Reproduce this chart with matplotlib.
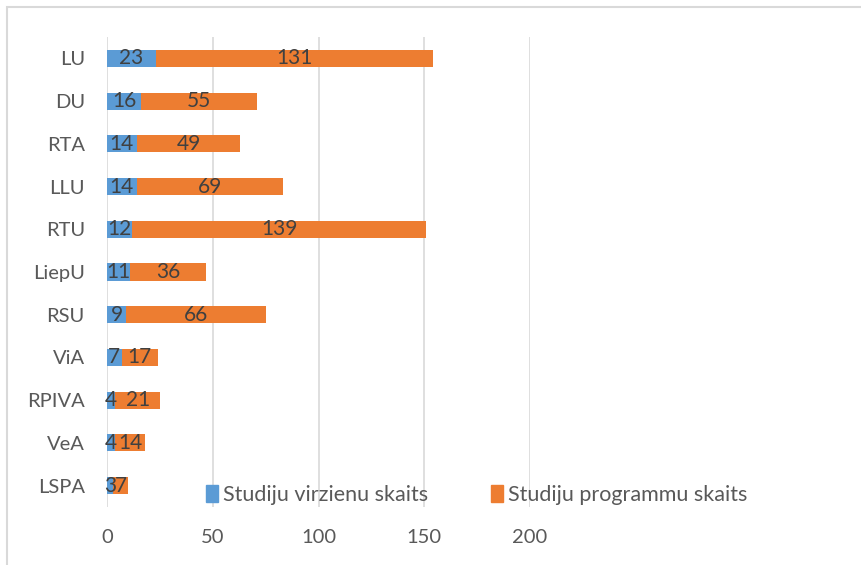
import matplotlib
matplotlib.use("Agg")
import matplotlib.pyplot as plt
from matplotlib.patches import Rectangle, Patch

categories = ["LU", "DU", "RTA", "LLU", "RTU", "LiepU", "RSU", "ViA", "RPIVA", "VeA", "LSPA"]
virzieni = [23, 16, 14, 14, 12, 11, 9, 7, 4, 4, 3]
programmas = [131, 55, 49, 69, 139, 36, 66, 17, 21, 14, 7]
xticks = [0, 50, 100, 150, 200]
series_names = ["Studiju virzienu skaits", "Studiju programmu skaits"]

plt.rcParams['font.family'] = ['Lato', 'DejaVu Sans']

W, H = 862, 565
fig = plt.figure(figsize=(W / 100, H / 100), dpi=100)
ax = fig.add_axes([107 / W, 1 - 507 / H, (530 - 107) / W, (507 - 37) / H])

blue = "#5B9BD5"
orange = "#ED7D31"
txt = "#595959"
lbl = "#404040"

ypos = list(range(len(categories)))[::-1]
ax.barh(ypos, virzieni, height=0.4, color=blue, zorder=3)
ax.barh(ypos, programmas, left=virzieni, height=0.4, color=orange, zorder=3)

for y, v, p in zip(ypos, virzieni, programmas):
    ax.text(v / 2, y, str(v), ha="center", va="center", fontsize=15, color=lbl, zorder=4)
    ax.text(v + p / 2, y, str(p), ha="center", va="center", fontsize=15, color=lbl, zorder=4)

ax.set_xlim(0, 200)
ax.set_ylim(-0.5, len(categories) - 0.5)
ax.set_xticks(xticks)
ax.set_xticklabels([str(t) for t in xticks])
ax.set_yticks(ypos)
ax.set_yticklabels(categories)
ax.tick_params(axis="both", length=0, labelsize=14.5, colors=txt)
ax.tick_params(axis="x", pad=16)
ax.tick_params(axis="y", pad=16)
ax.grid(axis="x", color="#D9D9D9", linewidth=1.2, zorder=0)
for s in ax.spines.values():
    s.set_visible(False)

handles = [Patch(color=blue), Patch(color=orange)]
fig.legend(handles, series_names, loc="center left",
           bbox_to_anchor=(189 / W, 1 - 495 / H), ncol=2, frameon=False,
           fontsize=15.5, handlelength=0.55, handleheight=0.85, handletextpad=0.25,
           columnspacing=2.9, labelcolor=txt, borderpad=0.3)

fig.patches.append(Rectangle((7 / W, -0.1), 1.2, 1 - 7 / H + 0.1, transform=fig.transFigure,
                             fill=False, edgecolor="#D9D9D9", linewidth=1.5))

fig.savefig("out.png", dpi=100)
